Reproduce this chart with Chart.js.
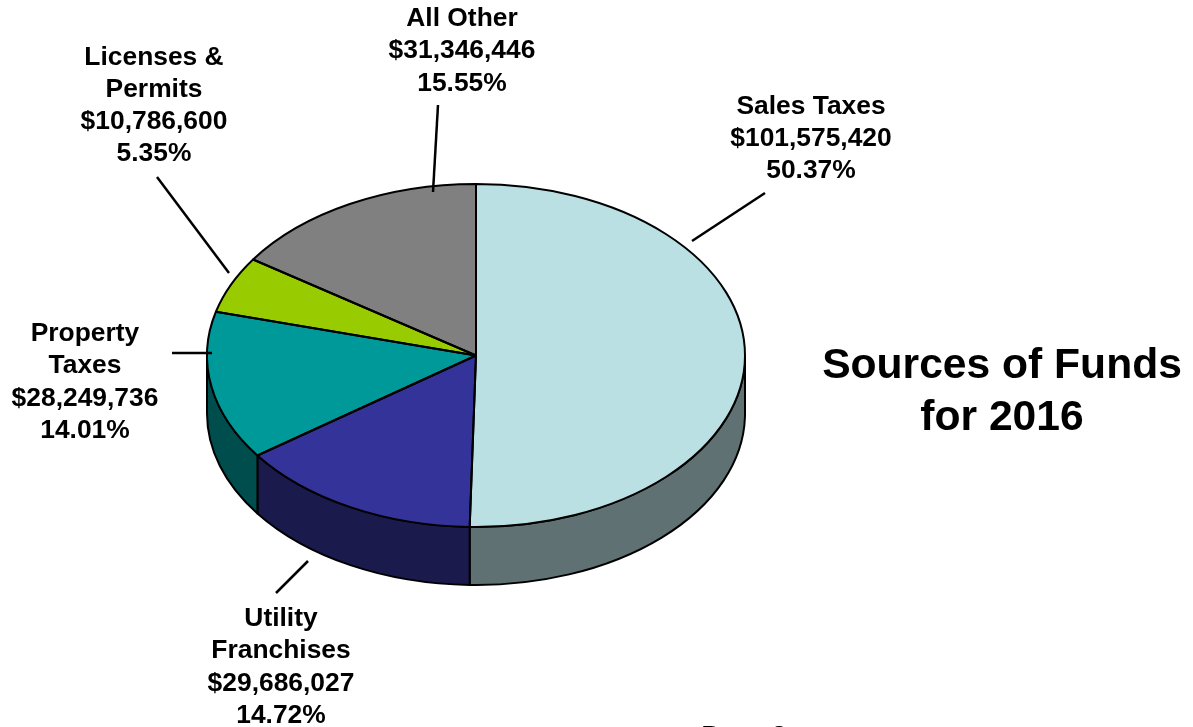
<!DOCTYPE html>
<html>
<head>
<meta charset="utf-8">
<title>Sources of Funds for 2016</title>
<script src="https://cdn.jsdelivr.net/npm/chart.js@4"></script>
<style>
  html, body { margin: 0; padding: 0; background: #fff; overflow: hidden; }
  canvas { display: block; }
</style>
</head>
<body>
<canvas id="myChart" width="1193" height="727"></canvas>
<script>
const categories = ['Sales Taxes', 'Utility Franchises', 'Property Taxes', 'Licenses & Permits', 'All Other'];
const amounts = [101575420, 29686027, 28249736, 10786600, 31346446];
const amountLabels = ['$101,575,420', '$29,686,027', '$28,249,736', '$10,786,600', '$31,346,446'];
const percentLabels = ['50.37%', '14.72%', '14.01%', '5.35%', '15.55%'];
const categoryLines = [['Sales Taxes'], ['Utility', 'Franchises'], ['Property', 'Taxes'], ['Licenses &', 'Permits'], ['All Other']];
const titleLines = ['Sources of Funds', 'for 2016'];
const footerText = 'Page 8';

const topColors = ['#bae0e3', '#333399', '#009999', '#99cc00', '#808080'];
const sideColors = ['#5f7172', '#1a1a4d', '#004d4d', '#4d6600', '#404040'];

// where each label block sits, and its leader line
const labelPos = [
    { x: 811, y: 113.5, line: [765, 193, 692, 241] },
    { x: 281, y: 626, line: [308, 561, 276, 593] },
    { x: 85, y: 341, line: [172, 353, 212, 353] },
    { x: 154, y: 64.5, line: [157, 177, 229, 273] },
    { x: 462, y: 26, line: [438, 105, 433, 192] }
];

const squash = 171.5 / 269;
const depth = 58;
const lineGap = 32.3;

function slicePath(c, el) {
    c.beginPath();
    c.moveTo(el.x, el.y);
    c.ellipse(el.x, el.y, el.outerRadius, el.outerRadius * squash, 0, el.startAngle, el.endAngle);
    c.closePath();
}

const pie3d = {
    id: 'pie3d',
    beforeDatasetsDraw(chart) {
        const c = chart.ctx;
        const arcs = chart.getDatasetMeta(0).data;
        c.save();
        c.lineWidth = 2;
        c.strokeStyle = '#000';
        c.lineJoin = 'round';
        arcs.forEach((el, i) => {
            const a0 = Math.max(el.startAngle, 0);
            const a1 = Math.min(el.endAngle, Math.PI);
            if (a1 <= a0) return;
            const ry = el.outerRadius * squash;
            c.beginPath();
            c.ellipse(el.x, el.y, el.outerRadius, ry, 0, a0, a1);
            c.ellipse(el.x, el.y + depth, el.outerRadius, ry, 0, a1, a0, true);
            c.closePath();
            c.fillStyle = sideColors[i];
            c.fill();
            c.stroke();
        });
        c.restore();
        // flatten the circle into the tilted top face
        const first = arcs[0];
        c.save();
        c.translate(0, first.y);
        c.scale(1, squash);
        c.translate(0, -first.y);
    },
    afterDatasetsDraw(chart) {
        const c = chart.ctx;
        c.restore();
        c.save();
        c.lineWidth = 2;
        c.strokeStyle = '#000';
        c.lineJoin = 'round';
        chart.getDatasetMeta(0).data.forEach(el => {
            slicePath(c, el);
            c.stroke();
        });
        c.restore();
    },
    afterDraw(chart) {
        const c = chart.ctx;
        c.save();
        c.fillStyle = '#000';
        c.strokeStyle = '#000';
        c.lineWidth = 2.5;
        c.textAlign = 'center';
        c.textBaseline = 'alphabetic';
        c.font = 'bold 26.4px "Liberation Sans", Arial, sans-serif';
        categories.forEach((name, i) => {
            const p = labelPos[i];
            const lines = categoryLines[i].concat(amountLabels[i], percentLabels[i]);
            lines.forEach((t, n) => c.fillText(t, p.x, p.y + n * lineGap));
            c.beginPath();
            c.moveTo(p.line[0], p.line[1]);
            c.lineTo(p.line[2], p.line[3]);
            c.stroke();
        });
        c.fillText(footerText, 744, 744);
        c.font = 'bold 42.6px "Liberation Sans", Arial, sans-serif';
        c.fillText(titleLines[0], 1002, 378);
        c.fillText(titleLines[1], 1002, 430);
        c.restore();
    }
};

new Chart(document.getElementById('myChart'), {
    type: 'pie',
    data: {
        labels: categories,
        datasets: [{
            data: amounts,
            backgroundColor: topColors,
            borderWidth: 0,
            clip: false
        }]
    },
    options: {
        responsive: false,
        animation: false,
        layout: { padding: { left: 207, right: 448, top: 86.5, bottom: 102.5 } },
        plugins: {
            legend: { display: false },
            tooltip: { enabled: false }
        }
    },
    plugins: [pie3d]
});
</script>
</body>
</html>
